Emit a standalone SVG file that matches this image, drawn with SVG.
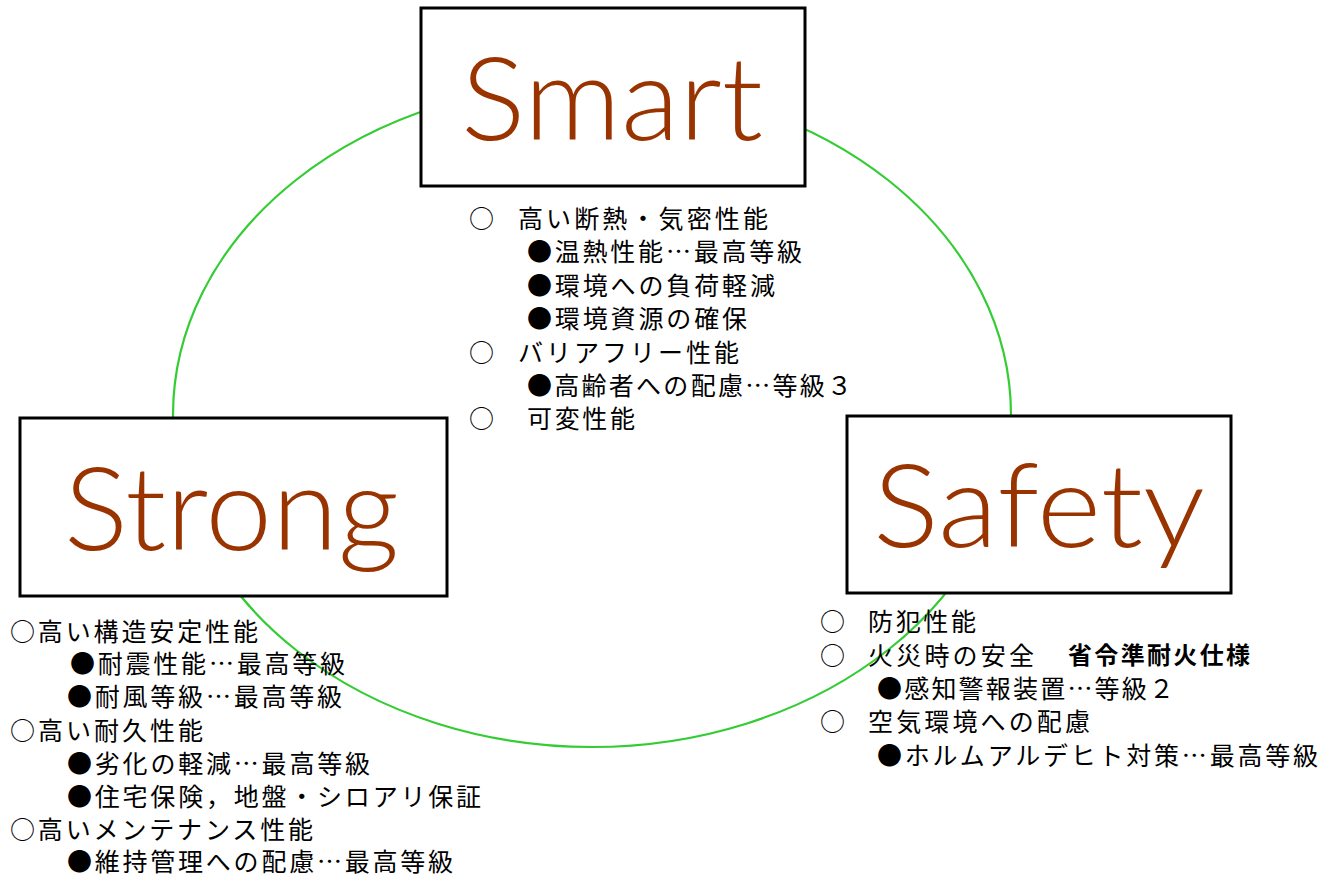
<svg xmlns="http://www.w3.org/2000/svg" width="1321" height="878" viewBox="0 0 1321 878">
<style>
.box{fill:#fff;stroke:#000;stroke-width:3}
.title{font-family:Lato,"Liberation Sans",Arial,sans-serif;font-weight:300;font-size:116px;fill:#993300}
.jp{font-family:"Noto Sans CJK JP",sans-serif;font-size:25px;fill:#000}
.jpb{font-family:"Noto Sans CJK JP",sans-serif;font-size:24px;font-weight:bold;fill:#000}
</style>
<rect width="1321" height="878" fill="#fff"/>
<g id="connectors">
<ellipse cx="592" cy="415" rx="419" ry="332" fill="none" stroke="#33cc33" stroke-width="2.2"/>
</g>
<g id="smart">
<rect class="box" x="421" y="8" width="384" height="178"/>
<text class="title" x="461" y="140" textLength="302" lengthAdjust="spacingAndGlyphs">Smart</text>
</g>
<g id="strong">
<rect class="box" x="20" y="418" width="427" height="178"/>
<text class="title" x="64" y="550" textLength="335" lengthAdjust="spacingAndGlyphs">Strong</text>
</g>
<g id="safety">
<rect class="box" x="847" y="416" width="384" height="177"/>
<text class="title" x="873" y="547" textLength="332" lengthAdjust="spacingAndGlyphs">Safety</text>
</g>
<g id="smart-notes">
<text class="jp" x="469" y="228">○</text>
<text class="jp" x="518" y="228" textLength="250">高い断熱・気密性能</text>
<text class="jp" x="527" y="261" textLength="275">●温熱性能…最高等級</text>
<text class="jp" x="527" y="295" textLength="248">●環境への負荷軽減</text>
<text class="jp" x="527" y="328" textLength="220">●環境資源の確保</text>
<text class="jp" x="469" y="362">○</text>
<text class="jp" x="518" y="362" textLength="221">バリアフリー性能</text>
<text class="jp" x="527" y="395" textLength="325">●高齢者への配慮…等級３</text>
<text class="jp" x="469" y="428">○</text>
<text class="jp" x="527" y="428" textLength="108">可変性能</text>
</g>
<g id="strong-notes">
<text class="jp" x="10" y="641" textLength="248">○高い構造安定性能</text>
<text class="jp" x="70" y="673" textLength="275">●耐震性能…最高等級</text>
<text class="jp" x="67" y="706" textLength="275">●耐風等級…最高等級</text>
<text class="jp" x="10" y="740" textLength="193">○高い耐久性能</text>
<text class="jp" x="67" y="773" textLength="303">●劣化の軽減…最高等級</text>
<text class="jp" x="67" y="806" textLength="414">●住宅保険，地盤・シロアリ保証</text>
<text class="jp" x="10" y="839" textLength="303">○高いメンテナンス性能</text>
<text class="jp" x="67" y="871" textLength="386">●維持管理への配慮…最高等級</text>
</g>
<g id="safety-notes">
<text class="jp" x="820" y="631">○</text>
<text class="jp" x="868" y="631" textLength="108">防犯性能</text>
<text class="jp" x="820" y="665">○</text>
<text class="jp" x="868" y="665" textLength="166">火災時の安全</text>
<text class="jpb" x="1068" y="664" textLength="182">省令準耐火仕様</text>
<text class="jp" x="877" y="698" textLength="297">●感知警報装置…等級２</text>
<text class="jp" x="820" y="731">○</text>
<text class="jp" x="868" y="731" textLength="222">空気環境への配慮</text>
<text class="jp" x="877" y="765" textLength="441">●ホルムアルデヒト対策…最高等級</text>
</g>
</svg>
